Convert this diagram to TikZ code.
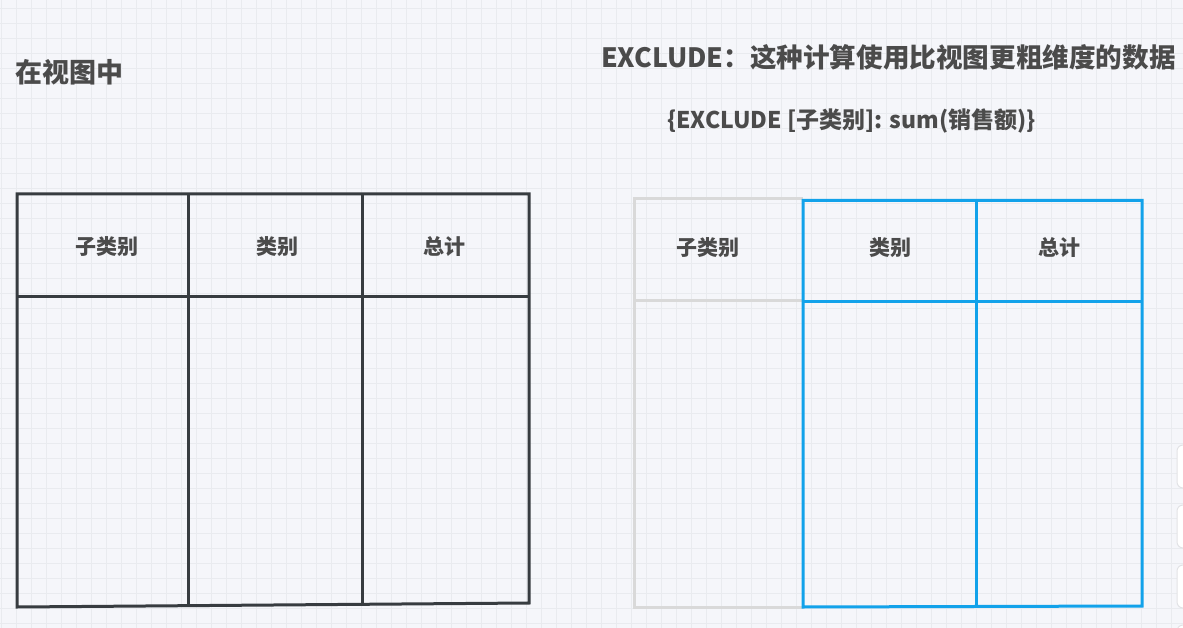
\documentclass[tikz,border=0pt]{standalone}
\usepackage{fontspec}
\newfontfamily\cjk{Noto Sans CJK SC}
\definecolor{bg}{HTML}{F5F6FA}
\definecolor{gridc}{HTML}{E9EBEF}
\definecolor{ink}{HTML}{4B4B4B}
\definecolor{darkc}{HTML}{373C40}
\definecolor{bluec}{HTML}{12A2EA}
\definecolor{grayc}{HTML}{D9D9D9}
\definecolor{uiborder}{HTML}{E2E3E6}
\tikzset{
  txt/.style={inner sep=0pt, text=ink, anchor=center},
  bigtitle/.style={txt, font=\cjk\bfseries\fontsize{26.6}{30}\selectfont},
  lefttitle/.style={txt, font=\cjk\bfseries\fontsize{27}{30}\selectfont},
  formula/.style={txt, font=\cjk\bfseries\fontsize{23}{27}\selectfont},
  hdr/.style={txt, font=\cjk\bfseries\fontsize{21}{25}\selectfont},
  darkln/.style={draw=darkc, line width=3pt, line cap=square},
  blueln/.style={draw=bluec, line width=3pt, line cap=square},
  grayln/.style={draw=grayc, line width=3pt, line cap=square},
  uibox/.style={draw=uiborder, fill=white, line width=1pt, rounded corners=6pt},
}
\begin{document}
\begin{tikzpicture}[x=1pt,y=-1pt]
\useasboundingbox (0,0) rectangle (1183,628);
\fill[bg] (0,0) rectangle (1183,628);
\begin{scope}
\clip (0,0) rectangle (1183,628);
\foreach \i in {0,...,79} {\draw[gridc, line width=1pt] ({1.7+15*\i},0) -- ({1.7+15*\i},628);}
\foreach \i in {0,...,42} {\draw[gridc, line width=1pt] (0,{8.3+15*\i}) -- (1183,{8.3+15*\i});}
\draw[uibox] (1177,445) rectangle (1210,488);
\draw[uibox] (1177,505) rectangle (1210,548);
\draw[uibox] (1177,565) rectangle (1210,608);
\draw[uibox] (1177,625) rectangle (1210,668);
\end{scope}

% titles
\node[lefttitle, anchor=west] (t1) at (15,72) {在视图中};
\node[bigtitle, anchor=west] (t2) at (601,57) {EXCLUDE：这种计算使用比视图更粗维度的数据};
\node[formula, anchor=west] (t3) at (667,121) {\{EXCLUDE [子类别]: sum(销售额)\}};

% left table
\coordinate (Ltl) at (17,194);
\coordinate (Ltr) at (529,194);
\coordinate (Lbl) at (17,607);
\coordinate (Lbr) at (529,603);
\coordinate (Lh1) at (17,297);
\coordinate (Lh2) at (529,297);
\coordinate (Lc1t) at (188,194);
\coordinate (Lc1b) at (188,605.5);
\coordinate (Lc2t) at (362,194);
\coordinate (Lc2b) at (362,604.5);
\draw[darkln] (Lbl) -- (Ltl) -- (Ltr) -- (Lbr) -- cycle;
\draw[darkln] (Lh1) -- (Lh2);
\draw[darkln] (Lc1t) -- (Lc1b);
\draw[darkln] (Lc2t) -- (Lc2b);
\node[hdr] (lh1) at (106.5,247) {子类别};
\node[hdr] (lh2) at (277.5,247) {类别};
\node[hdr] (lh3) at (444.5,247) {总计};

% right table: grey part
\coordinate (Gtl) at (634,199);
\coordinate (Gtr) at (803,199);
\coordinate (Gbl) at (634,607);
\coordinate (Gbr) at (803,607);
\coordinate (Gh1) at (634,301);
\coordinate (Gh2) at (803,301);
\draw[grayln] (Gtr) -- (Gtl) -- (Gbl) -- (Gbr);
\draw[grayln] (Gh1) -- (Gh2);
% right table: blue part
\coordinate (Btl) at (803,200.5);
\coordinate (Btr) at (1142,200.5);
\coordinate (Bbl) at (803,607);
\coordinate (Bbr) at (1142,606);
\coordinate (Bh1) at (803,302);
\coordinate (Bh2) at (1142,302);
\coordinate (Bct) at (976,200.5);
\coordinate (Bcb) at (976,607);
\draw[blueln] (Btl) -- (Btr) -- (Bbr) -- (Bbl) -- cycle;
\draw[blueln] (Bh1) -- (Bh2);
\draw[blueln] (Bct) -- (Bcb);
\node[hdr] (rh1) at (708,248) {子类别};
\node[hdr] (rh2) at (890.5,248) {类别};
\node[hdr] (rh3) at (1059.5,248) {总计};
\end{tikzpicture}
\end{document}
